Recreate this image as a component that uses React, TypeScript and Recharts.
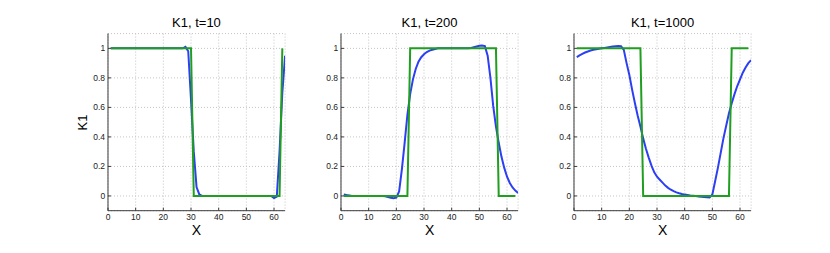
import React from 'react';
import { LineChart, Line, XAxis, YAxis, CartesianGrid } from 'recharts';

const X = [1, 2, 3, 4, 5, 6, 7, 8, 9, 10, 11, 12, 13, 14, 15, 16, 17, 18, 19, 20, 21, 22, 23, 24, 25, 26, 27, 28, 29, 30, 31, 32, 33, 34, 35, 36, 37, 38, 39, 40, 41, 42, 43, 44, 45, 46, 47, 48, 49, 50, 51, 52, 53, 54, 55, 56, 57, 58, 59, 60, 61, 62, 63, 64];

const X_TICKS = [0, 10, 20, 30, 40, 50, 60];
const Y_TICKS = [0, 0.2, 0.4, 0.6, 0.8, 1];

// t = 10
const BLUE_T10 = [
  1, 1, 1, 1, 1, 1, 1, 1, 1, 1,
  1, 1, 1, 1, 1, 1, 1, 1, 1, 1,
  1, 1, 1, 1, 1, 1, 1, 1.01, 0.98, 0.65,
  0.3, 0.06, 0.01, 0, 0, 0, 0, 0, 0, 0,
  0, 0, 0, 0, 0, 0, 0, 0, 0, 0,
  0, 0, 0, 0, 0, 0, 0, 0, 0, -0.015,
  -0.005, 0.3, 0.7, 0.95,
];
const GREEN_T10 = [
  1, 1, 1, 1, 1, 1, 1, 1, 1, 1,
  1, 1, 1, 1, 1, 1, 1, 1, 1, 1,
  1, 1, 1, 1, 1, 1, 1, 1, 1, 1,
  0, 0, 0, 0, 0, 0, 0, 0, 0, 0,
  0, 0, 0, 0, 0, 0, 0, 0, 0, 0,
  0, 0, 0, 0, 0, 0, 0, 0, 0, 0,
  0, 0, 1,
];

// t = 200
const BLUE_T200 = [
  0.01, 0.006, 0.003, 0, 0, 0, 0, 0, 0, 0,
  0, 0, 0, 0, 0, -0.003, -0.007, -0.012, -0.015, -0.012,
  0.03, 0.18, 0.36, 0.55, 0.69, 0.79, 0.86, 0.91, 0.94, 0.96,
  0.975, 0.985, 0.99, 0.995, 1, 1, 1, 1, 1, 1,
  1, 1, 1, 1, 1, 1, 1.003, 1.008, 1.013, 1.018,
  1.02, 1.015, 0.95, 0.8, 0.61, 0.47, 0.36, 0.265, 0.19, 0.13,
  0.088, 0.057, 0.036, 0.02,
];
const GREEN_T200 = [
  0, 0, 0, 0, 0, 0, 0, 0, 0, 0,
  0, 0, 0, 0, 0, 0, 0, 0, 0, 0,
  0, 0, 0, 0, 1, 1, 1, 1, 1, 1,
  1, 1, 1, 1, 1, 1, 1, 1, 1, 1,
  1, 1, 1, 1, 1, 1, 1, 1, 1, 1,
  1, 1, 1, 1, 1, 1, 0, 0, 0, 0,
  0, 0, 0,
];

// t = 1000
const BLUE_T1000 = [
  0.94, 0.952, 0.962, 0.972, 0.979, 0.985, 0.99, 0.994, 0.997, 1,
  1.003, 1.006, 1.009, 1.012, 1.014, 1.016, 1.015, 0.99, 0.9, 0.82,
  0.72, 0.63, 0.545, 0.47, 0.39, 0.32, 0.26, 0.205, 0.16, 0.13,
  0.11, 0.09, 0.07, 0.055, 0.042, 0.032, 0.024, 0.018, 0.013, 0.009,
  0.006, 0.003, 0.001, -0.001, -0.003, -0.005, -0.007, -0.009, -0.011, 0.01,
  0.1, 0.19, 0.29, 0.39, 0.475, 0.56, 0.628, 0.69, 0.745, 0.79,
  0.835, 0.87, 0.9, 0.92,
];
const GREEN_T1000 = [
  1, 1, 1, 1, 1, 1, 1, 1, 1, 1,
  1, 1, 1, 1, 1, 1, 1, 1, 1, 1,
  1, 1, 1, 1, 0, 0, 0, 0, 0, 0,
  0, 0, 0, 0, 0, 0, 0, 0, 0, 0,
  0, 0, 0, 0, 0, 0, 0, 0, 0, 0,
  0, 0, 0, 0, 0, 0, 1, 1, 1, 1,
  1, 1, 1,
];

const TITLES = ['K1, t=10', 'K1, t=200', 'K1, t=1000'];

const FONT = '"Liberation Sans", Arial, Helvetica, sans-serif';
const PLOT_W = 177.1;
const PLOT_H = 177.1;
const PLOT_TOP = 33.6;
const Y_AXIS_W = 40;
const PLOT_LEFTS = [107.9, 341, 574];

const BLUE = '#2c3ff2';
const GREEN = '#1f9e1f';

type PanelProps = { blue: number[]; green: number[]; left: number };

function Panel({ blue, green, left }: PanelProps) {
  const data = X.map((x, i) => ({
    x,
    blue: blue[i],
    green: i < green.length ? green[i] : null,
  }));
  const chartW = Y_AXIS_W + PLOT_W + 5;
  return (
    <div style={{ position: 'absolute', left: left - Y_AXIS_W, top: 0 }}>
      <LineChart
        width={chartW}
        height={253}
        data={data}
        margin={{ top: PLOT_TOP, right: 5, bottom: 0, left: 0 }}
      >
        <CartesianGrid stroke="#c4c4c4" strokeDasharray="1 2" />
        <XAxis
          dataKey="x"
          type="number"
          domain={[0, 64]}
          ticks={X_TICKS}
          interval={0}
          allowDataOverflow
          height={253 - PLOT_TOP - PLOT_H}
          stroke="#3a3a3a"
          tickSize={-3}
          tickMargin={6.3}
          tick={{ fontSize: 8.5, fill: '#222', fontFamily: FONT }}
        />
        <XAxis
          xAxisId="top"
          orientation="top"
          dataKey="x"
          type="number"
          domain={[0, 64]}
          ticks={X_TICKS}
          interval={0}
          allowDataOverflow
          height={0}
          stroke="#666"
          tickSize={-3}
          tick={false}
        />
        <YAxis
          type="number"
          domain={[-0.1, 1.1]}
          ticks={Y_TICKS}
          interval={0}
          allowDataOverflow
          width={Y_AXIS_W}
          stroke="#3a3a3a"
          tickSize={-3}
          tickMargin={5.9}
          tick={{ fontSize: 8.5, fill: '#222', fontFamily: FONT }}
        />
        <YAxis
          yAxisId="right"
          orientation="right"
          type="number"
          domain={[-0.1, 1.1]}
          ticks={Y_TICKS}
          interval={0}
          allowDataOverflow
          width={0}
          stroke="#666"
          tickSize={-3}
          tick={false}
        />
        <Line
          dataKey="blue"
          type="linear"
          stroke={BLUE}
          strokeWidth={2}
          dot={false}
          activeDot={false}
          isAnimationActive={false}
        />
        <Line
          dataKey="green"
          type="linear"
          stroke={GREEN}
          strokeWidth={2}
          dot={false}
          activeDot={false}
          isAnimationActive={false}
        />
      </LineChart>
    </div>
  );
}

export default function App() {
  const series = [
    { blue: BLUE_T10, green: GREEN_T10 },
    { blue: BLUE_T200, green: GREEN_T200 },
    { blue: BLUE_T1000, green: GREEN_T1000 },
  ];
  return (
    <div
      style={{
        position: 'absolute',
        left: 0,
        top: 0,
        width: 830,
        height: 253,
        background: '#fff',
        overflow: 'hidden',
      }}
    >
      {series.map((s, i) => (
        <Panel key={i} blue={s.blue} green={s.green} left={PLOT_LEFTS[i]} />
      ))}
      <svg
        width={830}
        height={253}
        style={{ position: 'absolute', left: 0, top: 0, pointerEvents: 'none' }}
      >
        {TITLES.map((t, i) => (
          <text
            key={t}
            x={PLOT_LEFTS[i] + PLOT_W / 2}
            y={26.7}
            textAnchor="middle"
            fontSize={13}
            fontFamily={FONT}
            fill="#000"
          >
            {t}
          </text>
        ))}
        {PLOT_LEFTS.map((l, i) => (
          <text
            key={'x' + i}
            x={l + PLOT_W / 2}
            y={235}
            textAnchor="middle"
            fontSize={14}
            fontFamily={FONT}
            fill="#000"
          >
            X
          </text>
        ))}
        <text
          x={86.7}
          y={122.5}
          transform="rotate(-90 86.7 122.5)"
          textAnchor="middle"
          fontSize={13}
          fontFamily={FONT}
          fill="#000"
        >
          K1
        </text>
      </svg>
    </div>
  );
}
